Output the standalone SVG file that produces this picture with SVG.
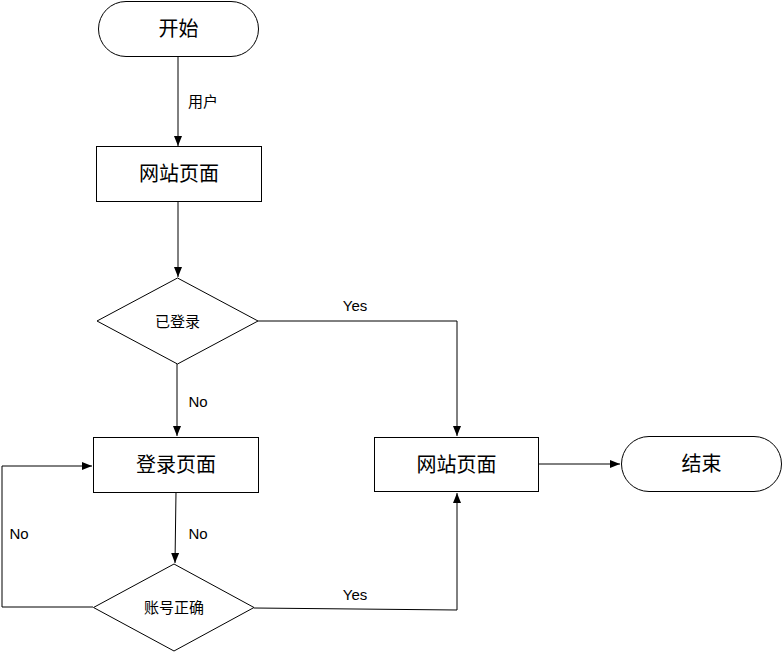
<svg xmlns="http://www.w3.org/2000/svg" width="783" height="652" viewBox="0 0 783 652">
<defs>
<style>
.box{fill:#fff;stroke:#000;stroke-width:1}
.t{font-family:"Liberation Sans","Noto Sans CJK SC",sans-serif;font-size:20px;fill:#000;text-anchor:middle;dominant-baseline:central}
.s{font-family:"Liberation Sans","Noto Sans CJK SC",sans-serif;font-size:15px;fill:#000;text-anchor:middle;dominant-baseline:central}
.c{fill:none;stroke:#000;stroke-width:1}
</style>
<marker id="arr" viewBox="0 0 10 10" refX="10" refY="5" markerWidth="10" markerHeight="10" markerUnits="userSpaceOnUse" orient="auto">
<path d="M0,1 L10,5 L0,9 Z" fill="#000"/>
</marker>
</defs>
<rect width="783" height="652" fill="#fff"/>
<g id="connectors">
<path class="c" d="M178,56 L178,146" marker-end="url(#arr)"/>
<text class="s" x="203" y="101">用户</text>
<path class="c" d="M178,201 L178,277" marker-end="url(#arr)"/>
<path class="c" d="M177,364 L177,436" marker-end="url(#arr)"/>
<text class="s" x="198" y="401">No</text>
<path class="c" d="M258,321 L457,321 L457,436" marker-end="url(#arr)"/>
<text class="s" x="355" y="305">Yes</text>
<path class="c" d="M176,492 L175,563" marker-end="url(#arr)"/>
<text class="s" x="198" y="533">No</text>
<path class="c" d="M254,608 L457,610 L457,493" marker-end="url(#arr)"/>
<text class="s" x="355" y="594">Yes</text>
<path class="c" d="M93,607 L2,607 L2,466 L92,466" marker-end="url(#arr)"/>
<text class="s" x="19" y="533">No</text>
<path class="c" d="M539,464 L620,464" marker-end="url(#arr)"/>
</g>
<g id="start">
<rect class="box" x="98.5" y="1.5" width="160" height="55" rx="27.5" ry="27.5"/>
<text class="t" x="178.5" y="29">开始</text>
</g>
<g id="page1">
<rect class="box" x="96.5" y="146.5" width="165" height="55"/>
<text class="t" x="179" y="174">网站页面</text>
</g>
<g id="logged">
<polygon class="box" points="177.5,278 258,321 177.5,364 97,321"/>
<text class="s" x="177.5" y="321">已登录</text>
</g>
<g id="login">
<rect class="box" x="93.5" y="437.5" width="165" height="55"/>
<text class="t" x="176" y="465">登录页面</text>
</g>
<g id="check">
<polygon class="box" points="174,564 254,607.5 174,651 93.5,607.5"/>
<text class="s" x="174" y="607.5">账号正确</text>
</g>
<g id="page2">
<rect class="box" x="374.5" y="437.5" width="164" height="54"/>
<text class="t" x="456.5" y="465">网站页面</text>
</g>
<g id="end">
<rect class="box" x="621.5" y="436.5" width="160" height="55" rx="27.5" ry="27.5"/>
<text class="t" x="701.5" y="464">结束</text>
</g>
</svg>
